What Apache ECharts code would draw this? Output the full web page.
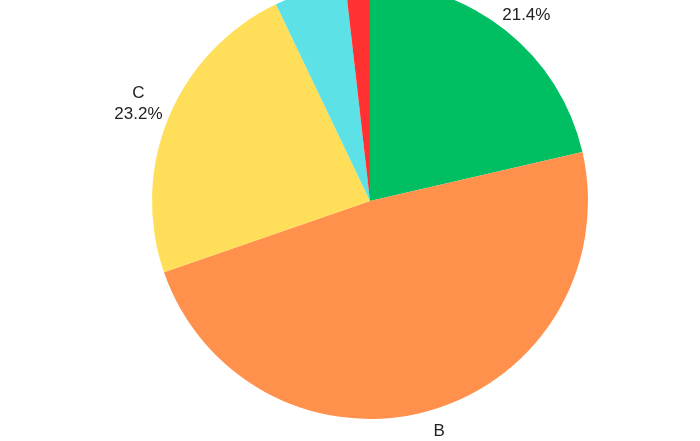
<!DOCTYPE html>
<html>
<head>
<meta charset="utf-8">
<script src="https://cdn.jsdelivr.net/npm/echarts@6/dist/echarts.min.js"></script>
<style>
html,body{margin:0;padding:0;background:#fff;}
#chart{width:700px;height:441px;}
</style>
</head>
<body>
<div id="chart"></div>
<script>
const categories = ['A', 'B', 'C', 'D', 'E'];
const values = [21.4, 48.3, 23.2, 5.3, 1.8];
const colors = ['#00BF63', '#FF914D', '#FFDE59', '#5CE1E6', '#FF3131'];

const pieData = categories.map((c, i) => ({ name: c, value: values[i], itemStyle: { color: colors[i] } }));
const labelData = categories.map((c, i) => ({ name: c, value: values[i] }));

const chart = echarts.init(document.getElementById('chart'), null, { renderer: 'canvas' });
chart.setOption({
  backgroundColor: '#ffffff',
  animation: false,
  series: [
    {
      type: 'pie',
      center: [370, 201],
      radius: [0, 218],
      startAngle: 90,
      clockwise: true,
      silent: true,
      data: pieData,
      label: { show: false },
      labelLine: { show: false },
      itemStyle: { borderWidth: 0 }
    },
    {
      type: 'pie',
      center: [370, 201],
      radius: [218, 278],
      startAngle: 90,
      clockwise: true,
      silent: true,
      percentPrecision: 1,
      data: labelData,
      itemStyle: { color: 'rgba(0,0,0,0)', borderWidth: 0 },
      labelLine: { show: false },
      label: {
        show: true,
        position: 'inside',
        formatter: '{b}\n{d}%',
        fontFamily: 'Liberation Sans, Arial, sans-serif',
        fontSize: 17,
        lineHeight: 21,
        color: '#222222',
        align: 'center'
      }
    }
  ]
});
</script>
</body>
</html>
